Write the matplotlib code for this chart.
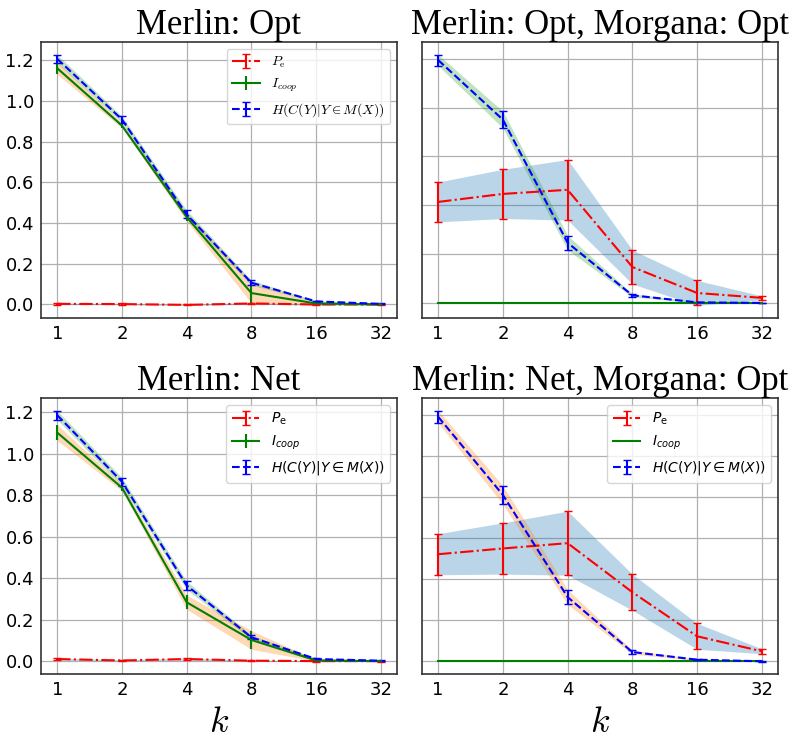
import numpy as np
import matplotlib
matplotlib.use("Agg")
import matplotlib.pyplot as plt
from matplotlib.ticker import NullLocator

# k values on x axis
k = np.array([1, 2, 4, 8, 16, 32])

# Merlin: Opt
pe_opt = [0.003, 0.002, -0.002, 0.005, 0.0, 0.0]
pe_opt_err = [0.004, 0.003, 0.003, 0.004, 0.003, 0.002]
ic_opt = [1.162, 0.880, 0.430, 0.056, 0.005, 0.0]
ic_opt_err = [0.030, 0.012, 0.020, 0.050, 0.004, 0.001]
h_opt = [1.208, 0.910, 0.443, 0.107, 0.015, 0.003]
h_opt_err = [0.021, 0.016, 0.020, 0.012, 0.004, 0.002]

# Merlin: Opt, Morgana: Opt
pe_oo = [0.517, 0.558, 0.579, 0.184, 0.051, 0.026]
pe_oo_err = [0.102, 0.126, 0.155, 0.087, 0.064, 0.010]
ic_oo = [0.0, 0.0, 0.0, 0.0, 0.0, 0.0]
ic_oo_err = [0.0, 0.0, 0.0, 0.0, 0.0, 0.0]
h_oo = [1.243, 0.938, 0.308, 0.039, 0.003, 0.0]
h_oo_err = [0.028, 0.043, 0.037, 0.008, 0.003, 0.001]

# Merlin: Net
pe_net = [0.010, 0.003, 0.010, 0.002, 0.0, 0.0]
pe_net_err = [0.005, 0.003, 0.005, 0.003, 0.002, 0.002]
ic_net = [1.103, 0.837, 0.284, 0.102, 0.003, 0.0]
ic_net_err = [0.038, 0.015, 0.034, 0.045, 0.004, 0.001]
h_net = [1.187, 0.866, 0.365, 0.115, 0.010, 0.002]
h_net_err = [0.022, 0.020, 0.020, 0.010, 0.004, 0.002]

# Merlin: Net, Morgana: Opt
pe_no = [0.522, 0.550, 0.576, 0.337, 0.122, 0.049]
pe_no_err = [0.100, 0.125, 0.156, 0.088, 0.063, 0.012]
ic_no = [0.0, 0.0, 0.0, 0.0, 0.0, 0.0]
h_no = [1.192, 0.811, 0.313, 0.045, 0.008, 0.0]
h_no_err = [0.030, 0.045, 0.036, 0.010, 0.004, 0.001]

titles = ["Merlin: Opt", "Merlin: Opt, Morgana: Opt",
          "Merlin: Net", "Merlin: Net, Morgana: Opt"]
k_labels = ["1", "2", "4", "8", "16", "32"]
lab_pe = r"$P_\mathrm{e}$"
lab_ic = r"$I_{coop}$"
lab_h = r"$H(C(Y)|Y\in M(X))$"


def band(ax, y, e, c):
    y = np.array(y)
    e = np.array(e)
    ax.fill_between(k, y - e, y + e, color=c, alpha=0.3, lw=0, zorder=1)


fig, axs = plt.subplots(2, 2, figsize=(7.95, 7.44), dpi=100)
plt.subplots_adjust(left=0.0516, right=0.9786, bottom=0.094, top=0.9435,
                    wspace=0.07, hspace=0.29)

# top left
ax = axs[0, 0]
band(ax, pe_opt, pe_opt_err, "C0")
band(ax, ic_opt, ic_opt_err, "C1")
band(ax, h_opt, h_opt_err, "C2")
ax.errorbar(k, pe_opt, yerr=pe_opt_err, fmt="r-.", capsize=3, lw=1.5, label=lab_pe)
ax.errorbar(k, ic_opt, yerr=ic_opt_err, fmt="g-", lw=1.5, label=lab_ic)
ax.errorbar(k, h_opt, yerr=h_opt_err, fmt="b--", capsize=3, lw=1.5, label=lab_h)
leg = ax.legend(loc="upper right", fontsize=10)
for t in leg.get_texts():
    t.set_math_fontfamily("cm")

# top right
ax = axs[0, 1]
band(ax, pe_oo, pe_oo_err, "C0")
band(ax, ic_oo, ic_oo_err, "C1")
band(ax, h_oo, h_oo_err, "C2")
ax.errorbar(k, pe_oo, yerr=pe_oo_err, fmt="r-.", capsize=3, lw=1.5)
ax.errorbar(k, ic_oo, yerr=ic_oo_err, fmt="g-", lw=1.5)
ax.errorbar(k, h_oo, yerr=h_oo_err, fmt="b--", capsize=3, lw=1.5)

# bottom left
ax = axs[1, 0]
band(ax, pe_net, pe_net_err, "C0")
band(ax, ic_net, ic_net_err, "C1")
band(ax, h_net, h_net_err, "C2")
ax.errorbar(k, pe_net, yerr=pe_net_err, fmt="r-.", capsize=3, lw=1.5, label=lab_pe)
ax.errorbar(k, ic_net, yerr=ic_net_err, fmt="g-", lw=1.5, label=lab_ic)
ax.errorbar(k, h_net, yerr=h_net_err, fmt="b--", capsize=3, lw=1.5, label=lab_h)
ax.legend(loc="upper right", fontsize=10)

# bottom right
ax = axs[1, 1]
band(ax, pe_no, pe_no_err, "C0")
band(ax, h_no, h_no_err, "C1")
e1 = ax.errorbar(k, pe_no, yerr=pe_no_err, fmt="r-.", capsize=3, lw=1.5)
l2, = ax.plot(k, ic_no, "g-", lw=1.5)
e3 = ax.errorbar(k, h_no, yerr=h_no_err, fmt="b--", capsize=3, lw=1.5)
ax.legend([e1, l2, e3], [lab_pe, lab_ic, lab_h], loc="upper right", fontsize=10)

for i, ax in enumerate(axs.flat):
    ax.set_xscale("log", base=2)
    ax.set_xticks(k, k_labels)
    ax.xaxis.set_minor_locator(NullLocator())
    ax.grid(True, color="#b0b0b0", lw=0.9)
    ax.set_axisbelow(True)
    ax.tick_params(length=0, pad=5, labelsize=13)
    ax.set_title(titles[i], fontsize=25, family="Liberation Serif")
    for s in ax.spines.values():
        s.set_edgecolor("0.2")
        s.set_linewidth(1.2)
    if i % 2 == 1:
        ax.tick_params(labelleft=False)
    if i >= 2:
        ax.set_xlabel("$k$", fontsize=26, math_fontfamily="cm")

fig.savefig("out.png", dpi=100)
